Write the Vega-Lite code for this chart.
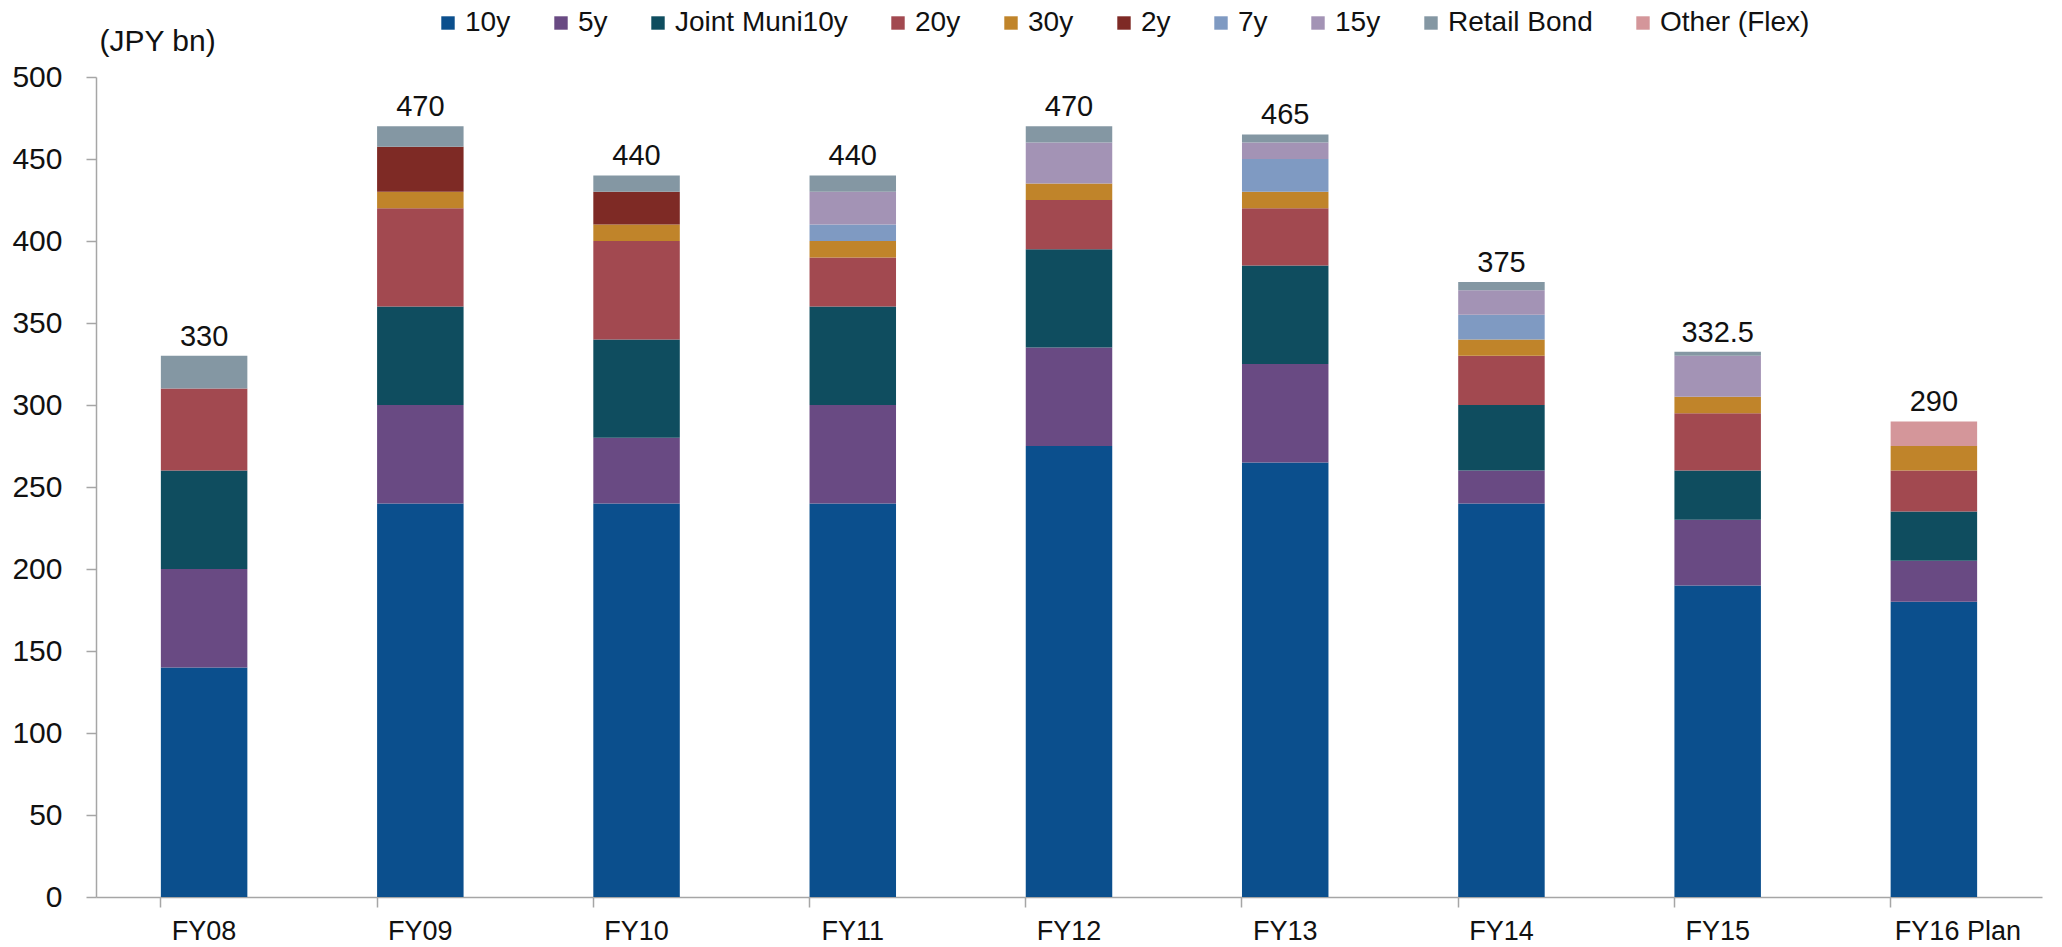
{
  "$schema": "https://vega.github.io/schema/vega-lite/v6.json",
  "autosize": {"type": "none"},
  "padding": {"left": 96, "top": 77, "right": 20, "bottom": 50},
  "width": 1946,
  "height": 820,
  "background": "white",
  "config": {
    "view": {"stroke": null},
    "font": "Liberation Sans",
    "axis": {"domainColor": "#A6A6A6", "tickColor": "#A6A6A6", "labelColor": "#111111", "labelFont": "Liberation Sans", "grid": false, "tickSize": 10, "domainWidth": 1.5, "tickWidth": 1.5}
  },
  "data": {"values": [
    {"year": "FY08", "type": "10y", "value": 140},
    {"year": "FY08", "type": "5y", "value": 60},
    {"year": "FY08", "type": "Joint Muni10y", "value": 60},
    {"year": "FY08", "type": "20y", "value": 50},
    {"year": "FY08", "type": "Retail Bond", "value": 20},
    {"year": "FY09", "type": "10y", "value": 240},
    {"year": "FY09", "type": "5y", "value": 60},
    {"year": "FY09", "type": "Joint Muni10y", "value": 60},
    {"year": "FY09", "type": "20y", "value": 60},
    {"year": "FY09", "type": "30y", "value": 10},
    {"year": "FY09", "type": "2y", "value": 27.5},
    {"year": "FY09", "type": "Retail Bond", "value": 12.5},
    {"year": "FY10", "type": "10y", "value": 240},
    {"year": "FY10", "type": "5y", "value": 40},
    {"year": "FY10", "type": "Joint Muni10y", "value": 60},
    {"year": "FY10", "type": "20y", "value": 60},
    {"year": "FY10", "type": "30y", "value": 10},
    {"year": "FY10", "type": "2y", "value": 20},
    {"year": "FY10", "type": "Retail Bond", "value": 10},
    {"year": "FY11", "type": "10y", "value": 240},
    {"year": "FY11", "type": "5y", "value": 60},
    {"year": "FY11", "type": "Joint Muni10y", "value": 60},
    {"year": "FY11", "type": "20y", "value": 30},
    {"year": "FY11", "type": "30y", "value": 10},
    {"year": "FY11", "type": "7y", "value": 10},
    {"year": "FY11", "type": "15y", "value": 20},
    {"year": "FY11", "type": "Retail Bond", "value": 10},
    {"year": "FY12", "type": "10y", "value": 275},
    {"year": "FY12", "type": "5y", "value": 60},
    {"year": "FY12", "type": "Joint Muni10y", "value": 60},
    {"year": "FY12", "type": "20y", "value": 30},
    {"year": "FY12", "type": "30y", "value": 10},
    {"year": "FY12", "type": "15y", "value": 25},
    {"year": "FY12", "type": "Retail Bond", "value": 10},
    {"year": "FY13", "type": "10y", "value": 265},
    {"year": "FY13", "type": "5y", "value": 60},
    {"year": "FY13", "type": "Joint Muni10y", "value": 60},
    {"year": "FY13", "type": "20y", "value": 35},
    {"year": "FY13", "type": "30y", "value": 10},
    {"year": "FY13", "type": "7y", "value": 20},
    {"year": "FY13", "type": "15y", "value": 10},
    {"year": "FY13", "type": "Retail Bond", "value": 5},
    {"year": "FY14", "type": "10y", "value": 240},
    {"year": "FY14", "type": "5y", "value": 20},
    {"year": "FY14", "type": "Joint Muni10y", "value": 40},
    {"year": "FY14", "type": "20y", "value": 30},
    {"year": "FY14", "type": "30y", "value": 10},
    {"year": "FY14", "type": "7y", "value": 15},
    {"year": "FY14", "type": "15y", "value": 15},
    {"year": "FY14", "type": "Retail Bond", "value": 5},
    {"year": "FY15", "type": "10y", "value": 190},
    {"year": "FY15", "type": "5y", "value": 40},
    {"year": "FY15", "type": "Joint Muni10y", "value": 30},
    {"year": "FY15", "type": "20y", "value": 35},
    {"year": "FY15", "type": "30y", "value": 10},
    {"year": "FY15", "type": "15y", "value": 25},
    {"year": "FY15", "type": "Retail Bond", "value": 2.5},
    {"year": "FY16 Plan", "type": "10y", "value": 180},
    {"year": "FY16 Plan", "type": "5y", "value": 25},
    {"year": "FY16 Plan", "type": "Joint Muni10y", "value": 30},
    {"year": "FY16 Plan", "type": "20y", "value": 25},
    {"year": "FY16 Plan", "type": "30y", "value": 15},
    {"year": "FY16 Plan", "type": "Other (Flex)", "value": 15}
  ]},
  "encoding": {
    "x": {
      "field": "year", "type": "nominal", "sort": null,
      "scale": {"paddingInner": 0.6, "paddingOuter": 0.3},
      "axis": {"title": null, "labelAngle": 0, "labelPadding": 11, "labelFontSize": 27, "bandPosition": 0,
        "labelOffset": {"condition": {"test": "datum.value === 'FY16 Plan'", "value": 24}, "value": 0}}
    }
  },
  "layer": [
    {
      "transform": [{"calculate": "indexof(['10y','5y','Joint Muni10y','20y','30y','2y','7y','15y','Retail Bond','Other (Flex)'], datum.type)", "as": "stackOrder"}],
      "mark": {"type": "bar"},
      "encoding": {
        "y": {
          "field": "value", "type": "quantitative", "stack": "zero",
          "scale": {"domain": [0, 500], "nice": false},
          "axis": {"values": [0, 50, 100, 150, 200, 250, 300, 350, 400, 450, 500], "labelFontSize": 30, "labelPadding": 24, "title": "(JPY bn)", "titleAngle": 0, "titleAlign": "left", "titleBaseline": "middle", "titleX": 3, "titleY": -36, "titleFontSize": 30, "titleFontWeight": "normal", "titleColor": "#111111", "titleFont": "Liberation Sans"}
        },
        "order": {"field": "stackOrder", "type": "quantitative", "sort": "ascending"},
        "color": {
          "field": "type", "type": "nominal",
          "sort": ["10y", "5y", "Joint Muni10y", "20y", "30y", "2y", "7y", "15y", "Retail Bond", "Other (Flex)"],
          "scale": {
            "domain": ["10y", "5y", "Joint Muni10y", "20y", "30y", "2y", "7y", "15y", "Retail Bond", "Other (Flex)"],
            "range": ["#0B4F8D", "#694A83", "#0F4D5F", "#A24950", "#C0842A", "#7E2A25", "#7F9AC2", "#A393B5", "#8497A3", "#D4969A"]
          },
          "legend": {
            "title": null, "orient": "none", "direction": "horizontal", "legendX": 338, "legendY": -68,
            "symbolType": "square", "symbolSize": 180, "symbolStrokeWidth": 0, "labelFontSize": 28, "labelLimit": 500, "labelColor": "#111111", "labelFont": "Liberation Sans",
            "columnPadding": 36, "symbolOffset": 0, "labelOffset": 3
          }
        }
      }
    },
    {
      "transform": [{"aggregate": [{"op": "sum", "field": "value", "as": "total"}], "groupby": ["year"]}],
      "mark": {"type": "text", "baseline": "alphabetic", "dy": -10, "fontSize": 29, "color": "#111111", "font": "Liberation Sans"},
      "encoding": {
        "y": {"field": "total", "type": "quantitative"},
        "text": {"field": "total", "type": "quantitative"}
      }
    }
  ]
}
